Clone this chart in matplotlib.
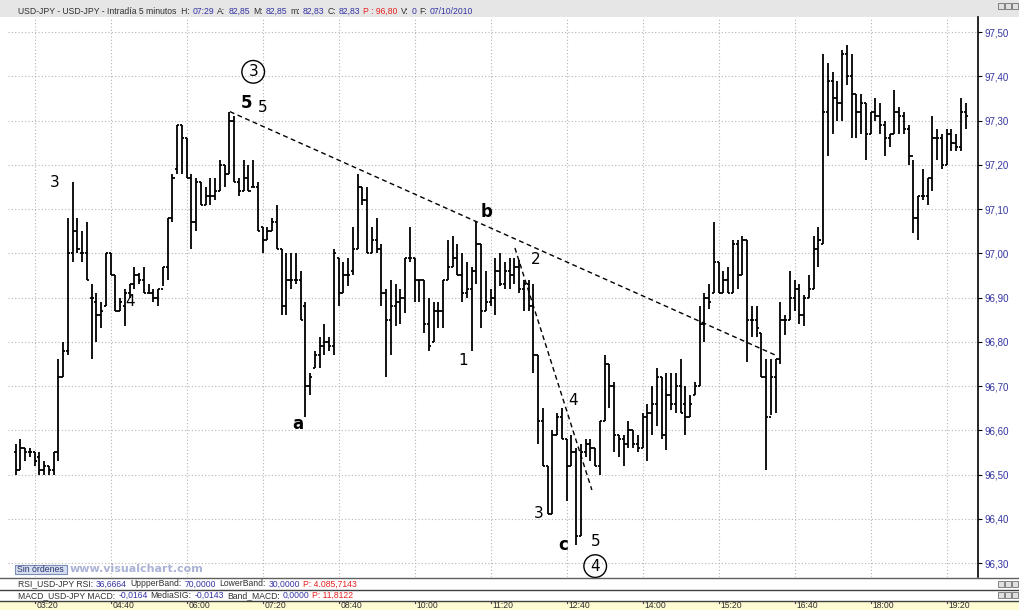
import numpy as np
import matplotlib
matplotlib.use('Agg')
import matplotlib.pyplot as plt
from matplotlib.patches import Rectangle
from matplotlib.lines import Line2D

# 5-minute bars, first bar = 03:00 (index -4), index 0 = 03:20
opens = [96.55, 96.51, 96.56, 96.55, 96.55, 96.54, 96.51, 96.52, 96.51, 96.55,
         96.72, 96.78, 97.00, 97.05, 97.00, 97.00, 96.90, 96.89, 96.86, 96.88,
         97.00, 96.95, 96.87, 96.88, 96.91, 96.93, 96.95, 96.94, 96.91, 96.91,
         96.90, 96.92, 96.97, 97.08, 97.19, 97.29, 97.26, 97.17, 97.07, 97.16,
         97.11, 97.13, 97.13, 97.14, 97.20, 97.18, 97.30, 97.16, 97.14, 97.17,
         97.15, 97.15, 97.06, 97.03, 97.05, 97.07, 97.01, 96.88, 96.94, 96.94,
         96.94, 96.88, 96.70, 96.74, 96.77, 96.79, 96.80, 96.79, 96.99, 96.91,
         96.95, 96.96, 97.01, 97.15, 97.12, 97.00, 97.03, 97.01, 96.91, 96.85,
         96.88, 96.89, 96.90, 96.99, 96.99, 96.94, 96.94, 96.84, 96.80, 96.87,
         96.87, 96.94, 96.97, 96.99, 96.95, 96.91, 96.92, 96.96, 97.02, 96.87,
         96.89, 96.90, 96.96, 96.93, 96.96, 96.95, 96.97, 96.92, 96.93, 96.88,
         96.77, 96.62, 96.52, 96.41, 96.59, 96.63, 96.58, 96.52, 96.55, 96.36,
         96.55, 96.57, 96.56, 96.52, 96.62, 96.75, 96.70, 96.59, 96.58, 96.57,
         96.60, 96.57, 96.56, 96.63, 96.64, 96.66, 96.72, 96.59, 96.68, 96.66,
         96.70, 96.66, 96.63, 96.68, 96.70, 96.84, 96.90, 96.91, 96.98, 96.91,
         96.94, 96.91, 97.02, 96.95, 97.03, 96.85, 96.85, 96.82, 96.72, 96.63,
         96.72, 96.76, 96.85, 96.85, 96.90, 96.92, 96.86, 96.90, 96.92, 97.01,
         97.02, 97.32, 97.39, 97.35, 97.34, 97.45, 97.40, 97.36, 97.32, 97.34,
         97.27, 97.32, 97.31, 97.29, 97.26, 97.27, 97.32, 97.31, 97.28, 97.22,
         97.08, 97.13, 97.13, 97.17, 97.26, 97.26, 97.20, 97.27, 97.25, 97.24,
         97.32]
highs = [96.57, 96.58, 96.56, 96.56, 96.55, 96.55, 96.53, 96.52, 96.55, 96.76,
         96.80, 97.08, 97.16, 97.08, 97.05, 97.07, 96.93, 96.91, 96.89, 97.00,
         97.00, 96.95, 96.90, 96.92, 96.93, 96.97, 96.955, 96.97, 96.93, 96.92,
         96.92, 96.97, 97.08, 97.18, 97.29, 97.29, 97.26, 97.18, 97.17, 97.16,
         97.15, 97.17, 97.17, 97.21, 97.20, 97.32, 97.31, 97.17, 97.21, 97.20,
         97.21, 97.16, 97.06, 97.06, 97.08, 97.11, 97.01, 97.00, 97.00, 97.00,
         96.96, 96.89, 96.73, 96.78, 96.81, 96.84, 96.81, 97.01, 96.99, 96.98,
         96.99, 97.06, 97.18, 97.15, 97.15, 97.06, 97.08, 97.02, 96.92, 96.94,
         96.93, 96.92, 96.99, 97.06, 96.99, 96.94, 96.94, 96.90, 96.89, 96.89,
         96.94, 97.03, 97.04, 97.02, 97.00, 96.98, 96.97, 97.07, 97.02, 96.96,
         96.92, 96.99, 97.00, 96.98, 96.99, 96.99, 96.985, 96.94, 96.94, 96.93,
         96.77, 96.65, 96.52, 96.60, 96.64, 96.65, 96.58, 96.59, 96.56, 96.57,
         96.58, 96.58, 96.56, 96.62, 96.77, 96.75, 96.71, 96.59, 96.59, 96.62,
         96.60, 96.59, 96.64, 96.66, 96.70, 96.74, 96.72, 96.73, 96.73, 96.73,
         96.76, 96.70, 96.68, 96.71, 96.88, 96.91, 96.93, 97.07, 96.98, 96.96,
         96.97, 97.03, 97.03, 97.04, 97.03, 96.88, 96.88, 96.82, 96.76, 96.76,
         96.76, 96.89, 96.86, 96.96, 96.94, 96.93, 96.905, 96.95, 97.04, 97.06,
         97.45, 97.43, 97.41, 97.39, 97.46, 97.47, 97.45, 97.36, 97.36, 97.34,
         97.32, 97.35, 97.34, 97.30, 97.27, 97.37, 97.33, 97.32, 97.29, 97.21,
         97.13, 97.19, 97.17, 97.31, 97.28, 97.27, 97.28, 97.28, 97.27, 97.35,
         97.34]
lows = [96.50, 96.51, 96.53, 96.54, 96.52, 96.50, 96.50, 96.50, 96.50, 96.53,
        96.72, 96.77, 96.98, 97.00, 96.98, 96.94, 96.76, 96.80, 96.83, 96.88,
        96.95, 96.87, 96.87, 96.835, 96.90, 96.92, 96.93, 96.91, 96.91, 96.89,
        96.88, 96.925, 96.94, 97.07, 97.18, 97.18, 97.17, 97.01, 97.05, 97.11,
        97.11, 97.11, 97.12, 97.14, 97.15, 97.18, 97.16, 97.13, 97.14, 97.14,
        97.15, 97.05, 97.00, 97.03, 97.05, 97.01, 96.86, 96.86, 96.92, 96.93,
        96.85, 96.63, 96.68, 96.74, 96.74, 96.77, 96.78, 96.77, 96.88, 96.91,
        96.925, 96.95, 97.01, 97.11, 97.00, 97.00, 97.00, 96.88, 96.72, 96.77,
        96.835, 96.84, 96.865, 96.98, 96.89, 96.89, 96.82, 96.78, 96.80, 96.83,
        96.83, 96.94, 96.97, 96.95, 96.89, 96.90, 96.78, 96.93, 96.83, 96.87,
        96.88, 96.86, 96.925, 96.92, 96.92, 96.93, 96.91, 96.87, 96.87, 96.73,
        96.57, 96.52, 96.41, 96.41, 96.59, 96.58, 96.44, 96.52, 96.34, 96.36,
        96.54, 96.53, 96.52, 96.50, 96.62, 96.65, 96.55, 96.54, 96.52, 96.56,
        96.56, 96.55, 96.56, 96.53, 96.59, 96.61, 96.58, 96.555, 96.645, 96.64,
        96.64, 96.59, 96.63, 96.68, 96.70, 96.80, 96.875, 96.91, 96.91, 96.91,
        96.91, 96.91, 96.92, 96.95, 96.755, 96.81, 96.81, 96.72, 96.51, 96.635,
        96.64, 96.75, 96.815, 96.85, 96.87, 96.84, 96.835, 96.90, 96.92, 96.97,
        97.02, 97.22, 97.27, 97.30, 97.30, 97.38, 97.26, 97.26, 97.27, 97.21,
        97.27, 97.30, 97.27, 97.22, 97.24, 97.27, 97.27, 97.27, 97.20, 97.045,
        97.03, 97.12, 97.11, 97.14, 97.21, 97.19, 97.20, 97.23, 97.23, 97.23,
        97.28]
closes = [96.51, 96.56, 96.55, 96.55, 96.53, 96.51, 96.52, 96.51, 96.55, 96.72,
          96.78, 97.00, 97.05, 97.01, 97.00, 96.94, 96.90, 96.86, 96.87, 97.00,
          96.95, 96.87, 96.89, 96.91, 96.93, 96.95, 96.94, 96.91, 96.91, 96.90,
          96.92, 96.97, 97.08, 97.17, 97.29, 97.26, 97.17, 97.07, 97.16, 97.11,
          97.13, 97.13, 97.14, 97.20, 97.18, 97.30, 97.16, 97.14, 97.17, 97.14,
          97.15, 97.05, 97.03, 97.05, 97.07, 97.01, 96.88, 96.94, 96.94, 96.94,
          96.85, 96.70, 96.72, 96.77, 96.79, 96.80, 96.79, 97.00, 96.91, 96.95,
          96.95, 97.01, 97.15, 97.12, 97.00, 97.03, 97.01, 96.91, 96.85, 96.88,
          96.89, 96.90, 96.99, 96.99, 96.94, 96.94, 96.84, 96.79, 96.87, 96.87,
          96.94, 96.97, 96.99, 96.95, 96.91, 96.92, 96.96, 97.02, 96.87, 96.89,
          96.90, 96.96, 96.93, 96.96, 96.95, 96.97, 96.92, 96.93, 96.88, 96.77,
          96.62, 96.52, 96.41, 96.59, 96.63, 96.58, 96.52, 96.55, 96.36, 96.55,
          96.57, 96.56, 96.52, 96.62, 96.75, 96.70, 96.59, 96.58, 96.57, 96.60,
          96.57, 96.56, 96.63, 96.64, 96.66, 96.72, 96.59, 96.68, 96.66, 96.70,
          96.64, 96.63, 96.66, 96.70, 96.84, 96.90, 96.89, 96.98, 96.91, 96.94,
          96.91, 97.02, 96.95, 97.03, 96.85, 96.85, 96.83, 96.72, 96.63, 96.72,
          96.76, 96.85, 96.85, 96.90, 96.92, 96.86, 96.90, 96.92, 97.01, 97.03,
          97.32, 97.39, 97.35, 97.34, 97.45, 97.40, 97.36, 97.32, 97.34, 97.27,
          97.32, 97.31, 97.29, 97.26, 97.27, 97.32, 97.31, 97.28, 97.22, 97.08,
          97.13, 97.13, 97.17, 97.26, 97.26, 97.20, 97.27, 97.25, 97.24, 97.32,
          97.31]
first_bar = -4

time_labels = ['03:20', '04:40', '06:00', '07:20', '08:40', '10:00', '11:20',
               '12:40', '14:00', '15:20', '16:40', '18:00', '19:20']
price_ticks = [96.30, 96.40, 96.50, 96.60, 96.70, 96.80, 96.90,
               97.00, 97.10, 97.20, 97.30, 97.40, 97.50]

# Elliott wave labels (bar index, price, text, bold)
wave_k = [4.3, 20.1, 44.5, 48.1, 55.4, 95.2, 90.2, 105.5, 113.3, 106.2, 111.2, 118.2]
wave_p = [97.16, 96.89, 97.34, 97.33, 96.615, 97.093, 96.757, 96.987, 96.668, 96.411, 96.341, 96.348]
wave_txt = ['3', '4', '5', '5', 'a', 'b', '1', '2', '4', '3', 'c', '5']
wave_bold = [False, False, True, False, True, True, False, False, False, False, True, False]
circ_k = [46.0, 118.0]
circ_p = [97.41, 96.293]
circ_txt = ['3', '4']
# trend lines: (k0, p0, k1, p1)
trend_lines = [(41.1, 97.32, 155.9, 96.77), (101.1, 97.012, 117.3, 96.465)]

plt.rcParams['font.family'] = ['Liberation Sans', 'DejaVu Sans']

W, H = 1019, 610
fig = plt.figure(figsize=(W / 100, H / 100), dpi=100)
fig.patch.set_facecolor('white')

def fx(px):
    return px / W

def fy(py):
    return 1 - py / H

DARK = '#303030'
BLUE = '#3434a4'
RED = '#e82020'

# header bar
fig.add_artist(Rectangle((0, fy(17)), 1, 17 / H, transform=fig.transFigure,
                         facecolor='#e6e6e6', edgecolor='none', zorder=-1))

# main price panel
ax = fig.add_axes([fx(8), fy(577), fx(978) - fx(8), 560 / H])
ax.set_xlim((8 - 34.7) / 4.75, (978 - 34.7) / 4.75)
ax.set_ylim(97.50 - 545 / 442.5, 97.50 + 15 / 442.5)

idx = np.arange(first_bar, first_bar + len(opens))
ax.vlines(idx, lows, highs, color='black', lw=1.3)
ax.hlines(opens, idx - 0.45, idx, color='black', lw=1.3)
ax.hlines(closes, idx, idx + 0.45, color='black', lw=1.3)

time_pos = np.arange(len(time_labels)) * 16
ax.set_xticks(time_pos)
ax.set_xticklabels([])
ax.tick_params(axis='x', length=0)
ax.set_yticks(price_ticks)
ax.set_yticklabels([f'{v:.2f}'.replace('.', ',') for v in price_ticks])
ax.yaxis.tick_right()
ax.tick_params(axis='y', length=3, width=0.8, color='black', labelcolor=BLUE,
               labelsize=7, pad=2)
ax.grid(True, ls=(0, (1, 2)), color='#b4b4b4', lw=0.8)
ax.set_axisbelow(True)
for s in ['left', 'top', 'bottom']:
    ax.spines[s].set_visible(False)
ax.spines['right'].set_color('black')
ax.spines['right'].set_linewidth(1.2)

for k0, p0, k1, p1 in trend_lines:
    ax.plot([k0, k1], [p0, p1], color='black', lw=1.0, ls=(0, (3.5, 2.5)))

for k, p, t, b in zip(wave_k, wave_p, wave_txt, wave_bold):
    ax.text(k, p, t, ha='center', va='center', fontsize=12 if b else 11,
            fontweight='bold' if b else 'normal', family='DejaVu Sans', color='black')
for k, p, t in zip(circ_k, circ_p, circ_txt):
    ax.text(k, p, t, ha='center', va='center', fontsize=11, family='DejaVu Sans',
            bbox=dict(boxstyle='circle,pad=0.25', fc='none', ec='black', lw=1.0),
            clip_on=False)

# "Sin órdenes" button and watermark
fig.add_artist(Rectangle((fx(15), fy(574)), 52 / W, 9 / H, transform=fig.transFigure,
                         facecolor='#d6dff0', edgecolor='#7c8cb4', lw=0.8))
fig.text(fx(17), fy(569.5), 'Sin órdenes', fontsize=6.3, color='#2c3470',
         va='center', ha='left')
fig.text(fx(70), fy(569.5), 'www.visualchart.com', fontsize=8, color='#aab2d6',
         fontweight='bold', family='DejaVu Sans', va='center', ha='left')

# separators and bottom strips
for yy, c in [(578, '#606060'), (590, '#404040'), (600.5, '#404040')]:
    fig.add_artist(Line2D([0, 1], [fy(yy), fy(yy)], transform=fig.transFigure,
                          color=c, lw=1.0))
fig.add_artist(Rectangle((0, 0), 1, fy(601), transform=fig.transFigure,
                         facecolor='#fffbd2', edgecolor='none', zorder=-1))
ax_t = fig.add_axes([fx(8), 0, fx(978) - fx(8), fy(601)])
ax_t.set_xlim(ax.get_xlim())
ax_t.set_ylim(0, 1)
ax_t.axis('off')
for p, lab in zip(time_pos, time_labels):
    ax_t.plot([p, p], [0.8, 1.0], color='#404040', lw=0.8)
    ax_t.text(p + 0.3, 0.45, lab, fontsize=6.2, color=DARK, ha='left', va='center',
              clip_on=False)

renderer = fig.canvas.get_renderer()

def colored_line(x_px, y_px, parts, size, gap=3.0):
    x = x_px
    for s, c in parts:
        t = fig.text(fx(x), fy(y_px), s, fontsize=size, color=c, ha='left', va='center')
        x += t.get_window_extent(renderer).width + gap

colored_line(18, 11, [('USD-JPY - USD-JPY - Intradía 5 minutos  H:', DARK), ('07:29', BLUE),
                      ('A:', DARK), ('82,85', BLUE), ('M:', DARK), ('82,85', BLUE),
                      ('m:', DARK), ('82,83', BLUE), ('C:', DARK), ('82,83', BLUE),
                      ('P : 96,80', RED), ('V:', DARK), ('0', BLUE), ('F:', DARK),
                      ('07/10/2010', BLUE)], 6.2)
colored_line(18, 584, [('RSI_USD-JPY RSI:', DARK), ('36,6664', BLUE), ('UppperBand:', DARK),
                       ('70,0000', BLUE), ('LowerBand:', DARK), ('30,0000', BLUE),
                       ('P: 4.085,7143', RED)], 6.25)
colored_line(18, 595.5, [('MACD_USD-JPY MACD:', DARK), ('-0,0164', BLUE), ('MediaSIG:', DARK),
                         ('-0,0143', BLUE), ('Band_MACD:', DARK), ('0,0000', BLUE),
                         ('P: 11,8122', RED)], 6.25)

# small window buttons
for yy in [3, 580.5, 592]:
    for xx in [998, 1005, 1012]:
        fig.add_artist(Rectangle((fx(xx), fy(yy + 6)), 6 / W, 6 / H, transform=fig.transFigure,
                                 facecolor='#e0e0e0', edgecolor='#707070', lw=0.6))

fig.savefig('out.png', dpi=100)
